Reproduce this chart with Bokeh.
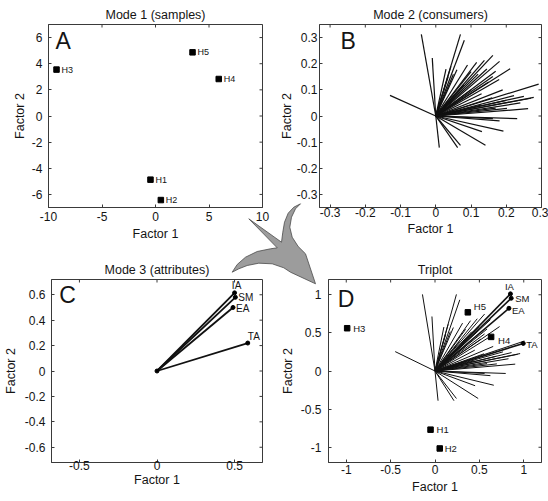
import numpy as np
from bokeh.plotting import figure
from bokeh.models import Range1d, LinearAxis, FixedTicker, ColumnDataSource
from bokeh.layouts import column, row
from bokeh.core.properties import value
from bokeh.embed import file_html
from bokeh.resources import INLINE

FONT = "Liberation Sans"
INK = "#141414"
FRAME = "#3a3a3a"

# ---------------- data ----------------
titles = ["Mode 1 (samples)", "Mode 2 (consumers)", "Mode 3 (attributes)", "Triplot"]
panel_letters = ["A", "B", "C", "D"]
x_label = "Factor 1"
y_label = "Factor 2"

# Mode 1: samples
samples = ["H1", "H2", "H3", "H4", "H5"]
sample_f1 = [-0.47, 0.50, -9.25, 5.91, 3.46]
sample_f2 = [-4.87, -6.43, 3.55, 2.83, 4.87]

# Mode 2: consumers (loadings, drawn as vectors from origin)
consumer_f1 = [-0.130, -0.041, -0.010, 0.010, 0.070, 0.081, 0.029, 0.043, 0.060,
               0.116, 0.138, 0.162, 0.181, 0.170, 0.211, 0.162, 0.292, 0.190,
               0.222, 0.278, 0.270, 0.202, 0.262, 0.231, 0.162, 0.181, 0.192,
               0.131, 0.141, 0.062, 0.070, 0.129, 0.050, 0.090, 0.100, 0.120,
               0.145, 0.150, 0.180, 0.100, 0.130, 0.160, 0.200, 0.170, 0.240,
               0.250, 0.035, 0.080]
consumer_f2 = [0.079, 0.312, 0.222, -0.121, 0.312, 0.290, 0.179, 0.190, 0.177,
               0.205, 0.213, 0.232, 0.209, 0.171, 0.181, 0.151, 0.122, 0.100,
               0.078, 0.071, 0.068, 0.029, 0.028, -0.010, -0.010, -0.019, -0.058,
               -0.060, -0.112, -0.121, -0.112, 0.042, 0.160, 0.195, 0.170, 0.160,
               0.180, 0.130, 0.140, 0.100, 0.085, 0.070, 0.060, 0.030, 0.050,
               0.075, 0.150, 0.120]

# Mode 3: attributes
attributes = ["IA", "SM", "EA", "TA"]
attr_f1 = [0.500, 0.505, 0.490, 0.585]
attr_f2 = [0.615, 0.580, 0.500, 0.220]

# Triplot scaling of the three modes
tri_sample_scale = (0.107, 0.158)
tri_consumer_scale = (3.45, 3.22)
tri_attr_scale = (1.70, 1.645)

# axes
A_xticks = [-10, -5, 0, 5, 10]
A_xtick_labels = ["-10", "-5", "0", "5", "10"]
A_yticks = [-6, -4, -2, 0, 2, 4, 6]
A_ytick_labels = ["-6", "-4", "-2", "0", "2", "4", "6"]
B_ticks = [-0.3, -0.2, -0.1, 0, 0.1, 0.2, 0.3]
B_tick_labels = ["-0.3", "-0.2", "-0.1", "0", "0.1", "0.2", "0.3"]
C_xticks = [-0.5, 0, 0.5]
C_xtick_labels = ["-0.5", "0", "0.5"]
C_yticks = [-0.6, -0.4, -0.2, 0, 0.2, 0.4, 0.6]
C_ytick_labels = ["-0.6", "-0.4", "-0.2", "0", "0.2", "0.4", "0.6"]
D_ticks = [-1, -0.5, 0, 0.5, 1]
D_tick_labels = ["-1", "-0.5", "0", "0.5", "1"]

# ---------------- decorative curved arrow (page pixels) ----------------
ARROW_X = [300, 295, 291, 289.3, 291.7, 297.7, 305, 315, 290, 283.3, 271.7, 258.3,
           246.7, 238.3, 231.7, 236.7, 245, 256.7, 270, 276.7, 248.3, 281, 282.3,
           284, 287.7, 293.3]
ARROW_Y = [203.3, 208.3, 216.7, 226.7, 236.7, 246, 253.3, 283.3, 271.7, 267.3, 263.3,
           262.7, 265, 268.3, 271.7, 264, 256.7, 251, 248.3, 247.3, 218.3, 241.7,
           231.7, 221.7, 212.7, 206.7]


def make_panel(title, xr, yr, xt, xtl, yt, ytl, w, h, lb, rb, tb, bb,
               xstd, xals, ystd, yals, letter, lfx, lfy):
    p = figure(width=w, height=h, x_range=Range1d(*xr), y_range=Range1d(*yr),
               output_backend="svg", toolbar_location=None,
               x_axis_location=None, y_axis_location=None, title=title,
               min_border_left=lb, min_border_right=rb, min_border_top=tb,
               min_border_bottom=bb, background_fill_color="white",
               border_fill_color="white", outline_line_color=FRAME,
               outline_line_width=1)
    p.grid.visible = False
    p.title.align = "center"
    p.title.text_font = FONT
    p.title.text_font_size = "12.5px"
    p.title.text_font_style = "normal"
    p.title.text_color = INK
    p.title.standoff = 5

    def style(ax):
        ax.axis_line_color = FRAME
        ax.major_tick_line_color = FRAME
        ax.major_tick_in = 3
        ax.major_tick_out = 0
        ax.minor_tick_line_color = None
        ax.major_label_text_font = FONT
        ax.major_label_text_font_size = "12px"
        ax.major_label_text_color = INK
        ax.axis_label_text_font = FONT
        ax.axis_label_text_font_size = "12.5px"
        ax.axis_label_text_font_style = "normal"
        ax.axis_label_text_color = INK

    xa = LinearAxis(ticker=FixedTicker(ticks=xt),
                    major_label_overrides=dict(zip(xt, xtl)), axis_label=x_label)
    style(xa)
    xa.major_label_standoff = xstd
    xa.axis_label_standoff = xals
    p.add_layout(xa, "below")
    ya = LinearAxis(ticker=FixedTicker(ticks=yt),
                    major_label_overrides=dict(zip(yt, ytl)), axis_label=y_label)
    style(ya)
    ya.major_label_standoff = ystd
    ya.axis_label_standoff = yals
    p.add_layout(ya, "left")

    # inward ticks on the top and right edges (half of each dash is clipped by the frame)
    p.scatter(x=xt, y=[yr[1]] * len(xt), marker="dash", angle=np.pi / 2, size=6,
              line_color=FRAME, line_width=1)
    p.scatter(x=[xr[1]] * len(yt), y=yt, marker="dash", size=6,
              line_color=FRAME, line_width=1)

    p.text(x=[xr[0] + lfx * (xr[1] - xr[0])], y=[yr[1] - lfy * (yr[1] - yr[0])],
           text=[letter], text_font=value(FONT), text_font_size="23px",
           text_align="left", text_baseline="top", text_color=INK)
    return p


# ---- A ----
pA = make_panel(titles[0], (-10, 10), (-7, 7), A_xticks, A_xtick_labels, A_yticks,
                A_ytick_labels, 274, 250, 48, 12, 24, 43, 4, 3, 6, 2,
                panel_letters[0], 0.033, 0.019)
srcA = ColumnDataSource(dict(x=sample_f1, y=sample_f2, t=samples))
pA.scatter("x", "y", source=srcA, marker="square", size=5.5, color="black")
pA.text("x", "y", text="t", source=srcA, x_offset=5, text_baseline="middle",
        text_font=value(FONT), text_font_size="9px", text_color=INK)

# ---- B ----
pB = make_panel(titles[1], (-0.33, 0.30), (-0.35, 0.35), B_ticks, B_tick_labels,
                B_ticks, B_tick_labels, 274, 250, 45, 7, 24, 43, 0, 2, 2, 0,
                panel_letters[1], 0.095, 0.017)
pB.segment(x0=0, y0=0, x1=consumer_f1, y1=consumer_f2, line_color="#111111",
           line_width=1.2)

# ---- C ----
pC = make_panel(titles[2], (-0.68, 0.68), (-0.72, 0.72), C_xticks, C_xtick_labels,
                C_yticks, C_ytick_labels, 274, 251, 48, 12, 29, 39, -2, 0, 6, 4,
                panel_letters[2], 0.037, 0.015)
pC.segment(x0=0, y0=0, x1=attr_f1, y1=attr_f2, line_color="#111111", line_width=1.8)
pC.scatter([0], [0], size=4, color="black")
srcC = ColumnDataSource(dict(x=attr_f1, y=attr_f2, t=attributes,
                             al=["center", "left", "left", "left"],
                             bl=["bottom", "middle", "middle", "bottom"],
                             dx=[2, 3, 3, 0], dy=[-2, 0, 1, -1]))
pC.scatter("x", "y", source=srcC, size=4, color="black")
pC.text("x", "y", text="t", source=srcC, x_offset="dx", y_offset="dy",
        text_align="al", text_baseline="bl", text_font=value(FONT),
        text_font_size="10px", text_color=INK)

# ---- D ----
pD = make_panel(titles[3], (-1.2, 1.2), (-1.2, 1.2), D_ticks, D_tick_labels, D_ticks,
                D_tick_labels, 274, 251, 54, 7, 29, 39, 2, 3, 7, 3,
                panel_letters[3], 0.044, 0.037)
cx = np.array(consumer_f1) * tri_consumer_scale[0]
cy = np.array(consumer_f2) * tri_consumer_scale[1]
pD.segment(x0=0, y0=0, x1=cx, y1=cy, line_color="#111111", line_width=1)
ax_ = np.array(attr_f1) * tri_attr_scale[0]
ay_ = np.array(attr_f2) * tri_attr_scale[1]
pD.segment(x0=0, y0=0, x1=ax_, y1=ay_, line_color="#111111", line_width=1.6)
srcDa = ColumnDataSource(dict(x=ax_, y=ay_, t=attributes,
                              al=["center", "left", "left", "left"],
                              bl=["bottom", "middle", "middle", "middle"],
                              dx=[-1, 4, 3, 3], dy=[-2, 0, 2, 1]))
pD.scatter("x", "y", source=srcDa, size=4, color="black")
pD.text("x", "y", text="t", source=srcDa, x_offset="dx", y_offset="dy",
        text_align="al", text_baseline="bl", text_font=value(FONT),
        text_font_size="9.5px", text_color=INK)
sx = np.array(sample_f1) * tri_sample_scale[0]
sy = np.array(sample_f2) * tri_sample_scale[1]
srcDs = ColumnDataSource(dict(x=sx, y=sy, t=samples, dx=[6, 5, 6, 7, 6],
                              dy=[0, 0, 0, 4, -6]))
pD.scatter("x", "y", source=srcDs, marker="square", size=5.5, color="black")
pD.text("x", "y", text="t", source=srcDs, x_offset="dx", y_offset="dy",
        text_baseline="middle", text_font=value(FONT), text_font_size="9.5px",
        text_color=INK)

# ---- curved arrow overlay ----
AX0, AX1, AY0, AY1 = 226, 320, 198, 288
pArrow = figure(width=AX1 - AX0, height=AY1 - AY0, x_range=Range1d(AX0, AX1),
                y_range=Range1d(AY1, AY0), output_backend="svg",
                toolbar_location=None, x_axis_location=None, y_axis_location=None,
                min_border=0, outline_line_color=None, background_fill_alpha=0,
                border_fill_alpha=0,
                styles={"position": "absolute", "left": f"{AX0}px",
                        "top": f"{AY0}px", "z-index": "5"})
pArrow.grid.visible = False
pArrow.patch(ARROW_X, ARROW_Y, fill_color="#9c9c9c", line_color="#4a4a4a",
             line_width=0.8)

layout = column(row(pA, pB), row(pC, pD), pArrow)

with open("out.html", "w") as f:
    f.write(file_html(layout, INLINE))
